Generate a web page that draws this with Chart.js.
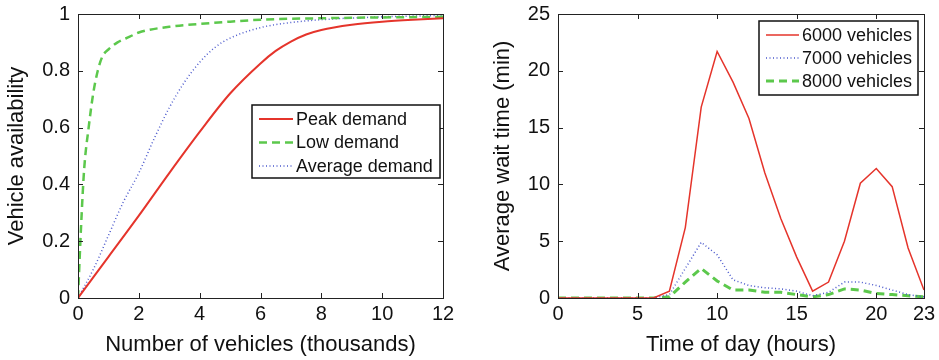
<!DOCTYPE html>
<html>
<head>
<meta charset="utf-8">
<script src="https://cdn.jsdelivr.net/npm/chart.js@4.4.0/dist/chart.umd.min.js"></script>
<style>
  html, body { margin: 0; padding: 0; background: #fff; }
  #wrap { position: relative; width: 939px; height: 360px; }
  .c { position: absolute; top: 0; }
</style>
</head>
<body>
<div id="wrap">
  <div class="c" style="left:0;width:470px;height:360px"><canvas id="left"></canvas></div>
  <div class="c" style="left:470px;width:469px;height:360px"><canvas id="right"></canvas></div>
</div>
<script>
// --- dados: disponibilidade de veículos (milhares de veículos) ---
const peakX = [0, 1, 2, 3, 4, 5, 6, 6.5, 7, 7.5, 8, 9, 10, 11, 12];
const peakY = [0, 0.145, 0.29, 0.44, 0.585, 0.72, 0.826, 0.87, 0.903, 0.928, 0.944, 0.962, 0.973, 0.98, 0.985];

const lowX = [0, 0.1, 0.2, 0.35, 0.5, 0.65, 0.8, 1, 1.3, 1.7, 2, 3, 4, 5, 6, 8, 10, 12];
const lowY = [0, 0.25, 0.45, 0.6, 0.72, 0.8, 0.85, 0.875, 0.9, 0.92, 0.935, 0.955, 0.965, 0.973, 0.98, 0.985, 0.988, 0.99];

const avgX = [0, 0.5, 1, 1.5, 2, 2.5, 3, 3.5, 4, 4.5, 5, 6, 7, 8, 10, 12];
const avgY = [0, 0.1, 0.22, 0.34, 0.44, 0.56, 0.67, 0.76, 0.83, 0.882, 0.915, 0.952, 0.97, 0.98, 0.99, 0.995];

// --- dados: tempo médio de espera por hora ---
const hours = [0,1,2,3,4,5,6,7,8,9,10,11,12,13,14,15,16,17,18,19,20,21,22,23];
const wait6000 = [0,0,0,0,0,0,0,0.6,6.2,16.8,21.7,19,15.8,11,7,3.6,0.6,1.4,5,10.1,11.4,9.8,4.4,0.7];
const wait7000 = [0,0,0,0,0,0,0,0.3,2.6,4.9,3.8,1.6,1.1,0.9,0.8,0.6,0.2,0.5,1.4,1.4,1.1,0.7,0.3,0.1];
const wait8000 = [0,0,0,0,0,0,0,0.1,1.4,2.6,1.5,0.7,0.7,0.5,0.5,0.3,0.1,0.3,0.8,0.7,0.4,0.3,0.2,0.1];

const leftYTicks = [0, 0.2, 0.4, 0.6, 0.8, 1];
const leftXTicks = [0, 2, 4, 6, 8, 10, 12];
const rightYTicks = [0, 5, 10, 15, 20, 25];
const rightXTicks = [0, 5, 10, 15, 20, 23];

const FONT = "'Liberation Sans', Arial, sans-serif";
const RED = '#e5342b', GREEN = '#5cc84c', BLUE = '#4a58cc';

function pts(xs, ys) { return xs.map((x, i) => ({ x, y: ys[i] })); }

// moldura estilo MATLAB + ticks para dentro + legenda com borda
const boxPlugin = {
  id: 'box',
  afterDraw(chart, args, o) {
    const { ctx, chartArea: a } = chart;
    const xs = chart.scales.x, ys = chart.scales.y;
    ctx.save();
    ctx.strokeStyle = '#222';
    ctx.lineWidth = 1;
    ctx.strokeRect(a.left + 0.5, a.top + 0.5, a.right - a.left, a.bottom - a.top);
    const L = 5;
    ctx.beginPath();
    xs.ticks.forEach(t => {
      const px = Math.round(xs.getPixelForValue(t.value)) + 0.5;
      ctx.moveTo(px, a.bottom); ctx.lineTo(px, a.bottom - L);
      ctx.moveTo(px, a.top); ctx.lineTo(px, a.top + L);
    });
    ys.ticks.forEach(t => {
      const py = Math.round(ys.getPixelForValue(t.value)) + 0.5;
      ctx.moveTo(a.left, py); ctx.lineTo(a.left + L, py);
      ctx.moveTo(a.right, py); ctx.lineTo(a.right - L, py);
    });
    ctx.stroke();

    // legenda
    const lx = a.right - o.right - o.w, ly = a.top + o.top;
    ctx.fillStyle = '#fff';
    ctx.fillRect(lx, ly, o.w, o.h);
    ctx.strokeStyle = '#111';
    ctx.lineWidth = 1.5;
    ctx.strokeRect(lx, ly, o.w, o.h);
    ctx.font = '18px ' + FONT;
    ctx.textBaseline = 'middle';
    chart.data.datasets.forEach((ds, i) => {
      const y = ly + o.first + i * o.rowH;
      ctx.beginPath();
      ctx.strokeStyle = ds.borderColor;
      ctx.lineWidth = ds.borderWidth;
      ctx.setLineDash(ds.borderDash || []);
      ctx.moveTo(lx + 7, y); ctx.lineTo(lx + 7 + o.sample, y);
      ctx.stroke();
      ctx.setLineDash([]);
      ctx.fillStyle = '#111';
      ctx.fillText(ds.label, lx + 10 + o.sample, y + 1);
    });
    ctx.restore();
  }
};

function axisX(min, max, ticks, title, h) {
  return {
    type: 'linear', min, max,
    afterBuildTicks: s => { s.ticks = ticks.map(v => ({ value: v })); },
    afterFit: s => { s.height = h; s.paddingLeft = 0; s.paddingRight = 0; },
    grid: { display: false, drawTicks: false },
    border: { display: false },
    ticks: { color: '#111', padding: 4, font: { family: FONT, size: 20 }, maxRotation: 0, autoSkip: false, callback: v => String(v) },
    title: { display: true, text: title, color: '#111', font: { family: FONT, size: 22 }, padding: { top: 0, bottom: 2 } }
  };
}
function axisY(min, max, ticks, title, w, tpad) {
  return {
    type: 'linear', min, max,
    afterBuildTicks: s => { s.ticks = ticks.map(v => ({ value: v })); },
    afterFit: s => { s.width = w; s.paddingTop = 0; s.paddingBottom = 0; },
    grid: { display: false, drawTicks: false },
    border: { display: false },
    ticks: { color: '#111', padding: 8, font: { family: FONT, size: 20 }, callback: v => String(v) },
    title: { display: true, text: title, color: '#111', font: { family: FONT, size: 22 }, padding: { top: tpad, bottom: 0 } }
  };
}

new Chart(document.getElementById('left'), {
  type: 'line',
  data: {
    datasets: [
      { label: 'Peak demand', data: pts(peakX, peakY), borderColor: RED, borderWidth: 2, cubicInterpolationMode: 'monotone' },
      { label: 'Low demand', data: pts(lowX, lowY), borderColor: GREEN, borderWidth: 2.5, borderDash: [8, 5], cubicInterpolationMode: 'monotone' },
      { label: 'Average demand', data: pts(avgX, avgY), borderColor: BLUE, borderWidth: 1.5, borderDash: [1, 2.5], cubicInterpolationMode: 'monotone' }
    ]
  },
  options: {
    responsive: true, maintainAspectRatio: false, animation: false,
    layout: { padding: { top: 14, right: 27, left: 0, bottom: 0 } },
    elements: { point: { radius: 0 } },
    plugins: {
      legend: { display: false }, tooltip: { enabled: false },
      box: { w: 188, h: 73, right: 3, top: 91, first: 14, rowH: 23.5, sample: 34 }
    },
    scales: {
      x: axisX(0, 12, leftXTicks, 'Number of vehicles (thousands)', 62),
      y: axisY(0, 1, leftYTicks, 'Vehicle availability', 78, 4)
    }
  },
  plugins: [boxPlugin]
});

new Chart(document.getElementById('right'), {
  type: 'line',
  data: {
    datasets: [
      { label: '6000 vehicles', data: pts(hours, wait6000), borderColor: RED, borderWidth: 1.5 },
      { label: '7000 vehicles', data: pts(hours, wait7000), borderColor: BLUE, borderWidth: 1.5, borderDash: [1, 2.5] },
      { label: '8000 vehicles', data: pts(hours, wait8000), borderColor: GREEN, borderWidth: 3, borderDash: [8, 5] }
    ]
  },
  options: {
    responsive: true, maintainAspectRatio: false, animation: false,
    layout: { padding: { top: 14, right: 15, left: 0, bottom: 0 } },
    elements: { point: { radius: 0 } },
    plugins: {
      legend: { display: false }, tooltip: { enabled: false },
      box: { w: 159, h: 74, right: 6, top: 7, first: 14, rowH: 23, sample: 33 }
    },
    scales: {
      x: axisX(0, 23, rightXTicks, 'Time of day (hours)', 62),
      y: axisY(0, 25, rightYTicks, 'Average wait time (min)', 88, 20)
    }
  },
  plugins: [boxPlugin]
});
</script>
</body>
</html>
